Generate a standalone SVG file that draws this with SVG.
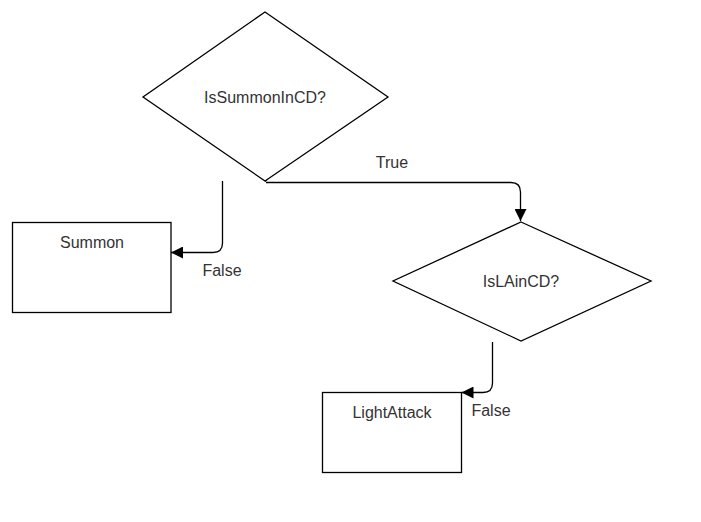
<svg xmlns="http://www.w3.org/2000/svg" width="701" height="522" viewBox="0 0 701 522">
<defs>
<marker id="ah" markerWidth="12" markerHeight="12" refX="12" refY="6" orient="auto" markerUnits="userSpaceOnUse">
<path d="M0,0 L12,6 L0,12 Z" fill="#000"/>
</marker>
<style>
.shape{fill:#fff;stroke:#000;stroke-width:1.3}
.edge{fill:none;stroke:#000;stroke-width:1.3}
.t{font-family:"Liberation Sans",Arial,sans-serif;font-size:16px;fill:#333;text-anchor:middle}
</style>
</defs>
<rect width="701" height="522" fill="#fff"/>
<g id="connectors">
<path class="edge" d="M266,182.5 L511,182.5 Q520.5,182.5 520.5,192 L520.5,221" marker-end="url(#ah)"/>
<path class="edge" d="M262,177 L265.5,181 L269,177 M265.5,176 L265.5,181"/>
<path class="edge" d="M222.5,181 L222.5,243 Q222.5,252.5 213,252.5 L171,252.5" marker-end="url(#ah)"/>
<path class="edge" d="M492.5,342 L492.5,383 Q492.5,392.5 483,392.5 L461.5,392.5" marker-end="url(#ah)"/>
<text class="t" x="392" y="168">True</text>
<text class="t" x="222" y="276">False</text>
<text class="t" x="491" y="416">False</text>
</g>
<g id="IsSummonInCD">
<polygon class="shape" points="265,12 388,97 265,181 143,97"/>
<text class="t" x="265" y="103">IsSummonInCD?</text>
</g>
<g id="Summon">
<rect class="shape" x="12.5" y="222.5" width="158.5" height="90"/>
<text class="t" x="92" y="248">Summon</text>
</g>
<g id="IsLAinCD">
<polygon class="shape" points="521,222 651,281 521,341 393,281"/>
<text class="t" x="521" y="287">IsLAinCD?</text>
</g>
<g id="LightAttack">
<rect class="shape" x="322.5" y="392.5" width="139" height="80"/>
<text class="t" x="392" y="418">LightAttack</text>
</g>
</svg>
